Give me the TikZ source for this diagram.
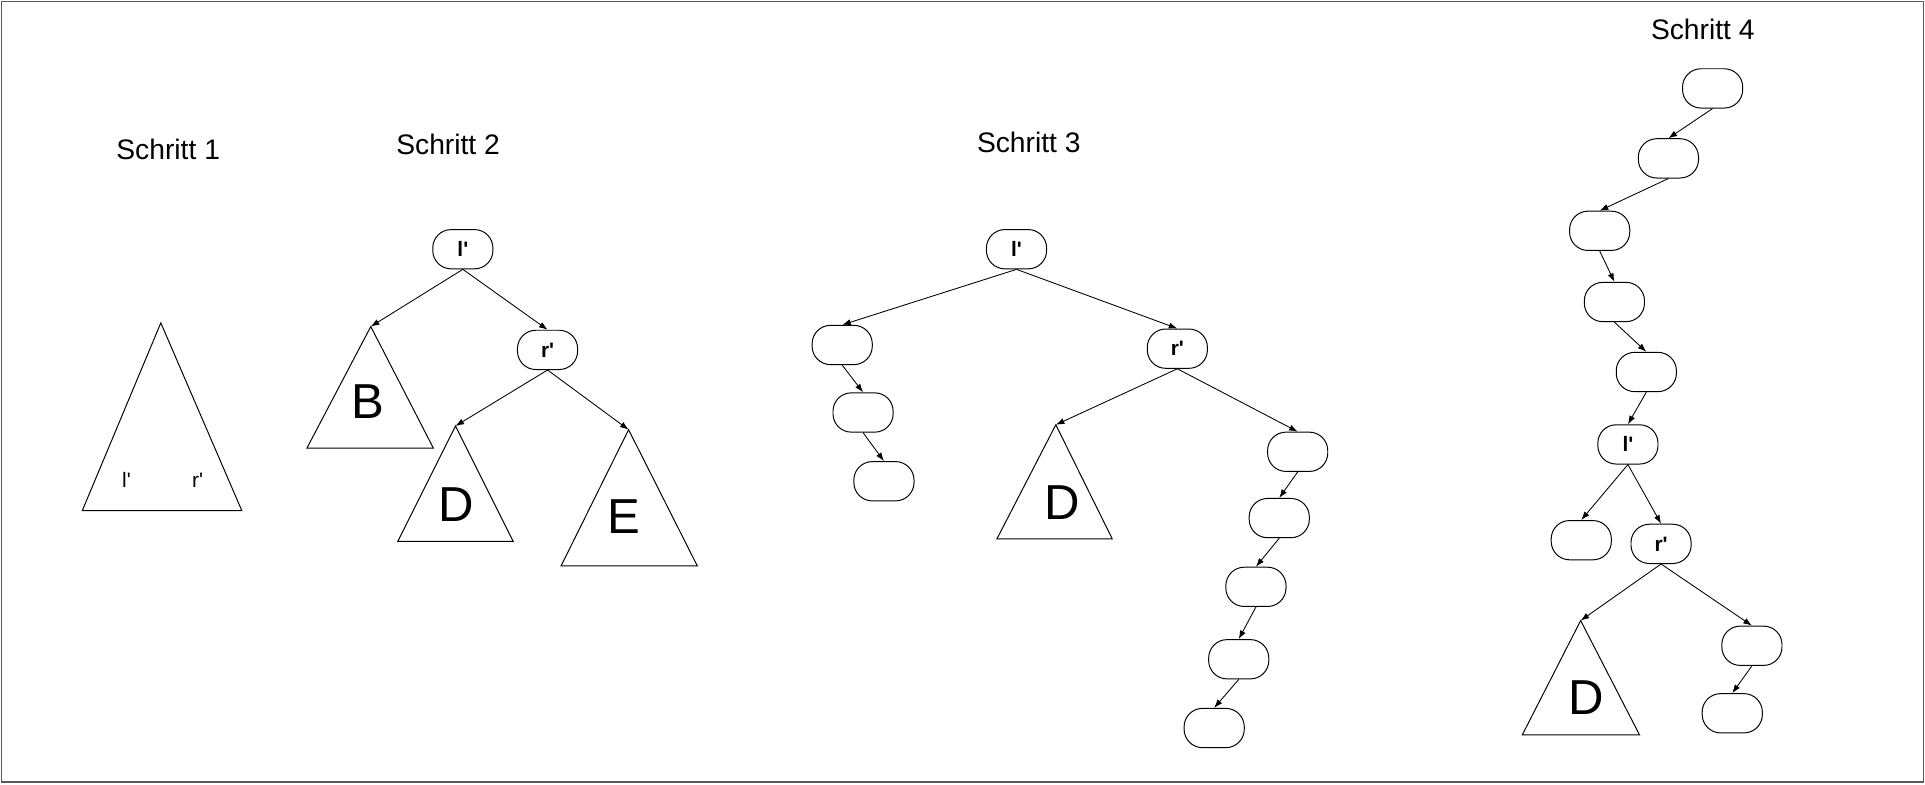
\documentclass[tikz,border=0pt]{standalone}
\usepackage{fontspec}
\setmainfont{Liberation Sans}
\usetikzlibrary{arrows.meta}
\newcommand{\lp}{l\textquotesingle}
\newcommand{\rp}{r\textquotesingle}
\begin{document}
\begin{tikzpicture}[x=1pt,y=-1pt,
  nd/.style={draw,line width=0.8pt,rounded corners=15pt,minimum width=49pt,minimum height=32pt,inner sep=0pt,font=\fontsize{17}{20}\selectfont\bfseries},
  ed/.style={line width=0.7pt,-{Latex[length=7pt,width=5pt]}},
  tri/.style={draw,line width=0.8pt},
  big/.style={font=\fontsize{40}{46}\selectfont},
  ttl/.style={font=\fontsize{23}{28}\selectfont},
  sm/.style={font=\fontsize{17}{20}\selectfont}]
\useasboundingbox (0,0) rectangle (1568,639.4);
\draw[gray!70!black,line width=1pt] (1,1) rectangle (1566.5,637);

% titles
\node[ttl] (t1) at (137,122) {Schritt 1};
\node[ttl] (t2) at (365,118) {Schritt 2};
\node[ttl] (t3) at (838,116) {Schritt 3};
\node[ttl] (t4) at (1387,24) {Schritt 4};

% Schritt 1
\draw[tri] (131,263) -- (197,416) -- (67,416) -- cycle;
\node[sm] (s1l) at (103,391) {\lp};
\node[sm] (s1r) at (161,391) {\rp};

% Schritt 2
\node[nd] (a) at (377,203) {\lp};
\node[nd] (b) at (446,285) {\rp};
\coordinate (tb) at (302,266);
\coordinate (td) at (371,347);
\coordinate (te) at (512,350);
\draw[tri] (tb) -- (353,365) -- (250,365) -- cycle;
\draw[tri] (td) -- (418,441) -- (324,441) -- cycle;
\draw[tri] (te) -- (568,461) -- (457,461) -- cycle;
\node[big] (lb) at (300,327) {B};
\node[big] (ld) at (372,411) {D};
\node[big] (le) at (508,421) {E};
\draw[ed] (a.south) -- (tb);
\draw[ed] (a.south) -- (b.north);
\draw[ed] (b.south) -- (td);
\draw[ed] (b.south) -- (te);

% Schritt 3
\node[nd] (c) at (828,203) {\lp};
\node[nd] (c1) at (686,281) {};
\node[nd] (c2) at (703,336) {};
\node[nd] (c3) at (720,392) {};
\node[nd] (cr) at (959,284) {\rp};
\coordinate (tc) at (860,346);
\draw[tri] (tc) -- (906,439) -- (812,439) -- cycle;
\node[big] (lcd) at (865,409) {D};
\node[nd] (d1) at (1057,368) {};
\node[nd] (d2) at (1042,422) {};
\node[nd] (d3) at (1023,478) {};
\node[nd] (d4) at (1009,537) {};
\node[nd] (d5) at (989,593) {};
\draw[ed] (c.south) -- (c1.north);
\draw[ed] (c1.south) -- (c2.north);
\draw[ed] (c2.south) -- (c3.north);
\draw[ed] (c.south) -- (cr.north);
\draw[ed] (cr.south) -- (tc);
\draw[ed] (cr.south) -- (d1.north);
\draw[ed] (d1.south) -- (d2.north);
\draw[ed] (d2.south) -- (d3.north);
\draw[ed] (d3.south) -- (d4.north);
\draw[ed] (d4.south) -- (d5.north);

% Schritt 4
\node[nd] (e1) at (1395,72) {};
\node[nd] (e2) at (1359,129) {};
\node[nd] (e3) at (1303,188) {};
\node[nd] (e4) at (1315,246) {};
\node[nd] (e5) at (1341,303) {};
\node[nd] (el) at (1326,362) {\lp};
\node[nd] (ell) at (1288,440) {};
\node[nd] (er) at (1353,443) {\rp};
\coordinate (tf) at (1287.5,505.5);
\draw[tri] (tf) -- (1335.4,598.5) -- (1240,598.5) -- cycle;
\node[big] (lfd) at (1292,568) {D};
\node[nd] (f1) at (1427,526) {};
\node[nd] (f2) at (1411,581) {};
\draw[ed] (e1.south) -- (e2.north);
\draw[ed] (e2.south) -- (e3.north);
\draw[ed] (e3.south) -- (e4.north);
\draw[ed] (e4.south) -- (e5.north);
\draw[ed] (e5.south) -- (el.north);
\draw[ed] (el.south) -- (ell.north);
\draw[ed] (el.south) -- (er.north);
\draw[ed] (er.south) -- (tf);
\draw[ed] (er.south) -- (f1.north);
\draw[ed] (f1.south) -- (f2.north);
\end{tikzpicture}
\end{document}
